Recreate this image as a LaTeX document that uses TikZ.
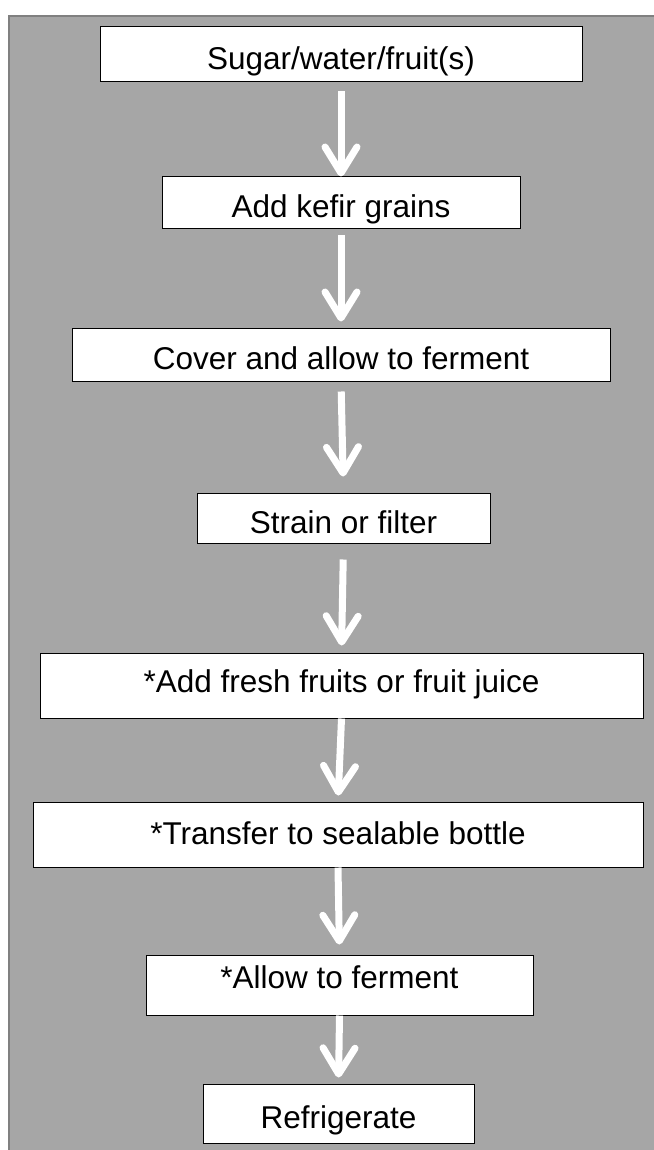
\documentclass[tikz,border=0pt]{standalone}
\usepackage{fontspec}
\setmainfont{Liberation Sans}
\usepackage{tikz}
\usetikzlibrary{arrows.meta}
\usepackage{xcolor}
\definecolor{panel}{RGB}{166,166,166}
\definecolor{panelline}{RGB}{128,128,128}

\begin{document}
\begin{tikzpicture}[
  x=1pt, y=-1pt,
  stepbox/.style={draw=black, fill=white, line width=1pt, inner sep=0pt,
    text height=30pt, text depth=0pt, font=\fontsize{31.5}{36}\selectfont},
  flow/.style={draw=white, line width=7pt,
    -{Straight Barb[length=26pt, width=32pt, round]}},
]
  \useasboundingbox (0,0) rectangle (653,1150);
  % grey panel behind the steps
  \draw[panelline, fill=panel, line width=2pt] (9,16) rectangle (670,1170);

  \node[stepbox, minimum width=482pt, minimum height=55pt] (sugar)    at (341,54.5)   {Sugar/water/fruit(s)};
  \node[stepbox, minimum width=358pt, minimum height=52pt] (kefir)    at (341,203)    {Add kefir grains};
  \node[stepbox, minimum width=538pt, minimum height=53pt] (cover)    at (341,354.5)  {Cover and allow to ferment};
  \node[stepbox, minimum width=293pt, minimum height=50pt] (strain)   at (343.5,518)  {Strain or filter};
  \node[stepbox, minimum width=603pt, minimum height=65pt,
        text height=22.5pt, text depth=8pt] (fresh)    at (341.5,685.5) {*Add fresh fruits or fruit juice};
  \node[stepbox, minimum width=610pt, minimum height=65pt,
        text height=22.5pt, text depth=3pt] (transfer) at (338,834.5)   {*Transfer to sealable bottle};
  \node[stepbox, minimum width=387pt, minimum height=60pt,
        text height=22.5pt, text depth=16pt] (ferment) at (339.5,985)   {*Allow to ferment};
  \node[stepbox, minimum width=271pt, minimum height=59pt] (fridge)   at (338.5,1113.5) {Refrigerate};

  \draw[flow, shorten <=9pt]               (sugar.south)    -- (kefir.north);
  \draw[flow, shorten <=6pt, shorten >=6pt]  (kefir.south)    -- (cover.north);
  \draw[flow, shorten <=10pt, shorten >=16pt] (cover.south)   -- (strain.north);
  \draw[flow, shorten <=16pt, shorten >=7pt] (strain.south)   -- (fresh.north);
  \draw[flow, shorten >=6pt]               (fresh.south)    -- (transfer.north);
  \draw[flow, shorten >=10pt]              (transfer.south) -- (ferment.north);
  \draw[flow, shorten >=6pt]               (ferment.south)  -- (fridge.north);
\end{tikzpicture}
\end{document}
